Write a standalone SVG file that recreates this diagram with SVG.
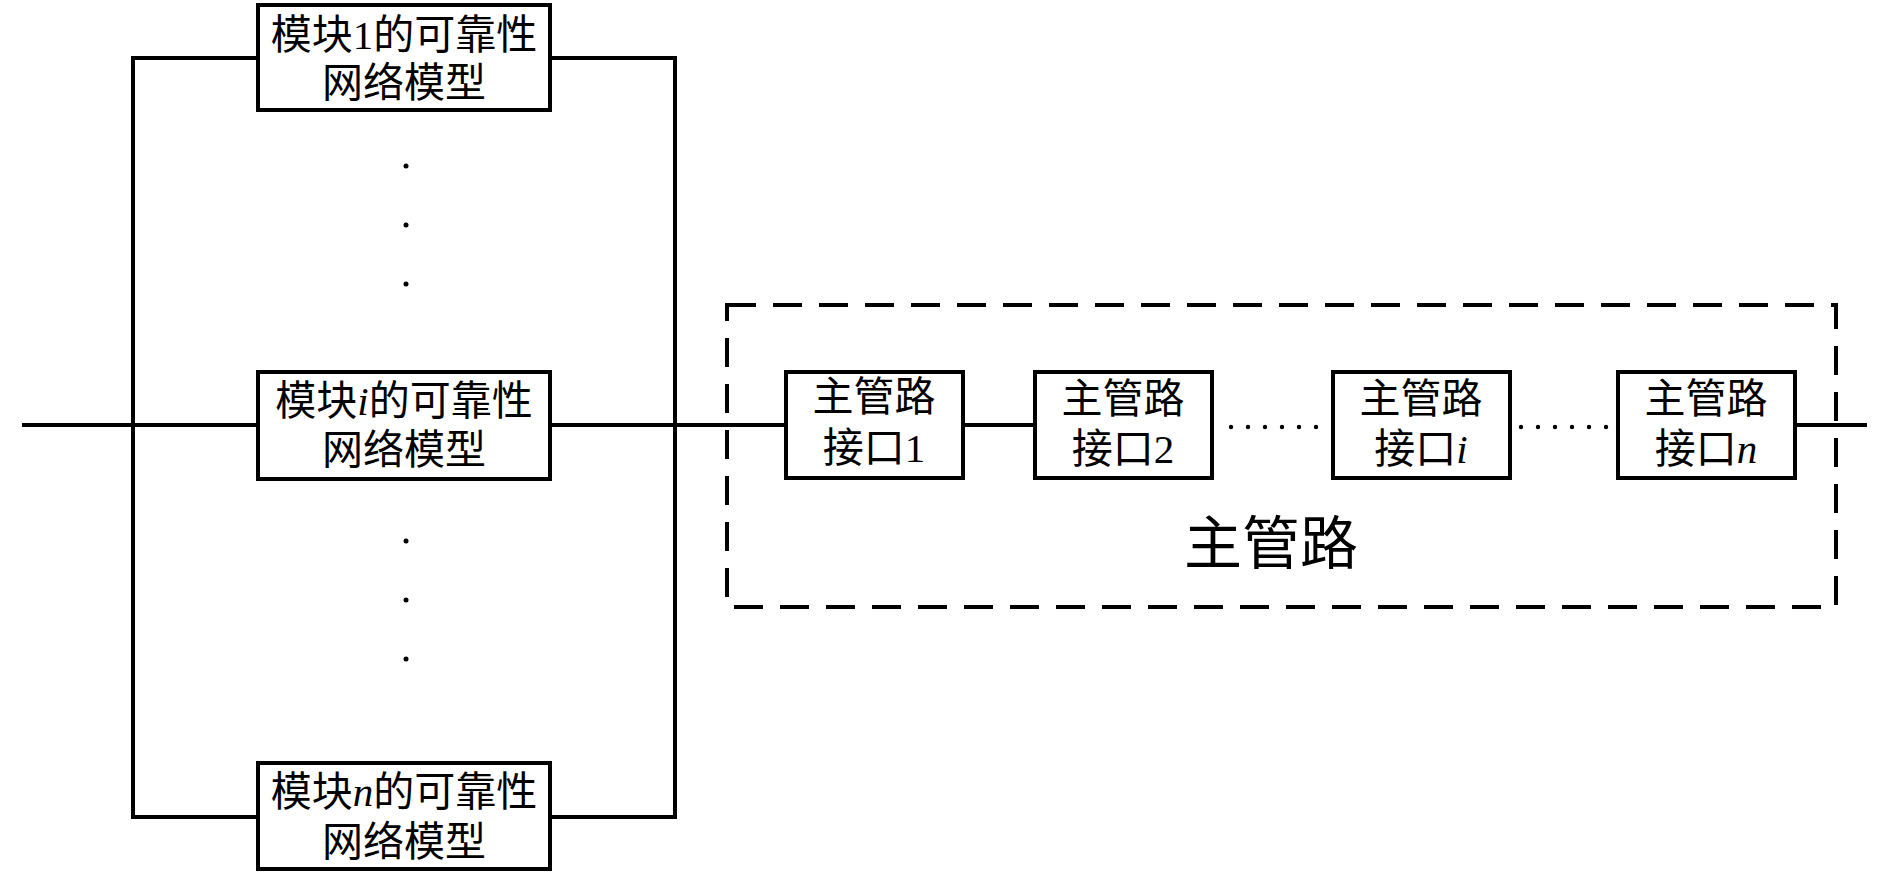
<svg xmlns="http://www.w3.org/2000/svg" width="1890" height="874" viewBox="0 0 1890 874">
<style>
.box{fill:#fff;stroke:#000;stroke-width:4}
.ln{fill:none;stroke:#000;stroke-width:4}
.dash{fill:none;stroke:#000;stroke-width:4;stroke-dasharray:29 17}
.t{font-family:"Liberation Serif","Noto Sans CJK SC",serif;font-size:41px;fill:#000;text-anchor:middle}
.big{font-size:58px}
.it{font-style:italic}
</style>
<rect width="1890" height="874" fill="#fff"/>
<g id="connectors">
<line class="ln" x1="22" y1="425" x2="258" y2="425"/>
<line class="ln" x1="550" y1="425" x2="786" y2="425"/>
<line class="ln" x1="963" y1="425" x2="1035" y2="425"/>
<line class="ln" x1="1795" y1="425" x2="1867" y2="425"/>
<polyline class="ln" points="258,58 133,58 133,817 258,817"/>
<polyline class="ln" points="550,58 675,58 675,817 550,817"/>
<g fill="#000">
<circle cx="406" cy="166" r="2.5"/><circle cx="406" cy="225" r="2.5"/><circle cx="406" cy="284" r="2.5"/>
<circle cx="406" cy="541" r="2.5"/><circle cx="406" cy="600" r="2.5"/><circle cx="406" cy="659" r="2.5"/>
<circle cx="1231" cy="427" r="2.2"/><circle cx="1248" cy="427" r="2.2"/><circle cx="1265" cy="427" r="2.2"/><circle cx="1282" cy="427" r="2.2"/><circle cx="1299" cy="427" r="2.2"/><circle cx="1316" cy="427" r="2.2"/>
<circle cx="1521" cy="427" r="2.2"/><circle cx="1538" cy="427" r="2.2"/><circle cx="1555" cy="427" r="2.2"/><circle cx="1572" cy="427" r="2.2"/><circle cx="1589" cy="427" r="2.2"/><circle cx="1606" cy="427" r="2.2"/>
</g>
</g>
<g id="main-pipe-group">
<rect class="dash" x="727" y="305" width="1109" height="302"/>
<text class="t big" x="1271" y="564">主管路</text>
</g>
<g id="module-1">
<rect class="box" x="258" y="5" width="292" height="105"/>
<text class="t" x="404" y="49">模块1的可靠性</text>
<text class="t" x="404" y="97">网络模型</text>
</g>
<g id="module-i">
<rect class="box" x="258" y="372" width="292" height="107"/>
<text class="t" x="404" y="415">模块<tspan class="it">i</tspan>的可靠性</text>
<text class="t" x="404" y="464">网络模型</text>
</g>
<g id="module-n">
<rect class="box" x="258" y="763" width="292" height="106"/>
<text class="t" x="404" y="806">模块<tspan class="it">n</tspan>的可靠性</text>
<text class="t" x="404" y="856">网络模型</text>
</g>
<g id="port-1">
<rect class="box" x="786" y="372" width="177" height="106"/>
<text class="t" x="874" y="411">主管路</text>
<text class="t" x="874" y="462">接口1</text>
</g>
<g id="port-2">
<rect class="box" x="1035" y="372" width="177" height="106"/>
<text class="t" x="1123" y="413">主管路</text>
<text class="t" x="1123" y="463">接口2</text>
</g>
<g id="port-i">
<rect class="box" x="1333" y="372" width="177" height="106"/>
<text class="t" x="1421" y="413">主管路</text>
<text class="t" x="1421" y="463">接口<tspan class="it">i</tspan></text>
</g>
<g id="port-n">
<rect class="box" x="1618" y="372" width="177" height="106"/>
<text class="t" x="1706" y="413">主管路</text>
<text class="t" x="1706" y="463">接口<tspan class="it">n</tspan></text>
</g>
</svg>
